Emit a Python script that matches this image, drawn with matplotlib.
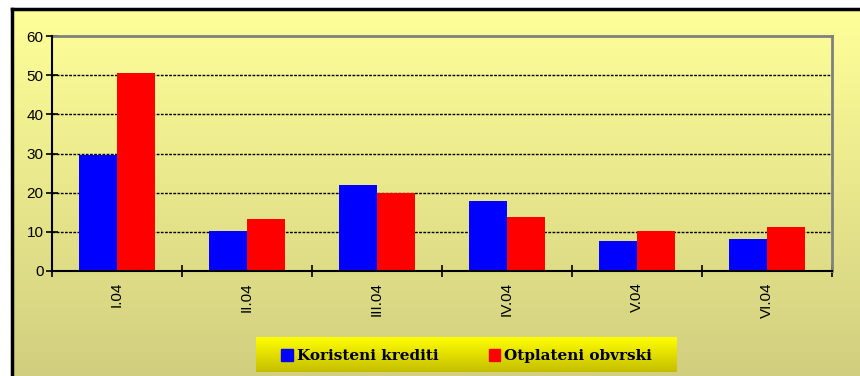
import numpy as np
import matplotlib.pyplot as plt
from matplotlib.patches import Patch

# Podaci po mjesecima (mil.)
kategorije = ['I.04', 'II.04', 'III.04', 'IV.04', 'V.04', 'VI.04']
koristeni = [29.5, 10.3, 22.0, 17.9, 7.7, 8.2]
otplateni = [50.6, 13.3, 19.8, 13.8, 10.2, 11.2]

W, H = 860, 376
fig = plt.figure(figsize=(W / 100, H / 100), dpi=100)
fig.patch.set_facecolor('white')

# pozadina s gradijentom
bg = fig.add_axes([12 / W, 0, 1 - 12 / W, 1 - 9 / H])
grad = np.linspace(0, 1, 256).reshape(-1, 1)
top = np.array([255, 255, 153]) / 255
bot = np.array([209, 207, 127]) / 255
img = top + (bot - top) * grad[..., None]
bg.imshow(img, aspect='auto', extent=[0, 1, 0, 1])
bg.set_xticks([])
bg.set_yticks([])
for s in ['right', 'bottom']:
    bg.spines[s].set_visible(False)
for s in ['left', 'top']:
    bg.spines[s].set_color('black')
    bg.spines[s].set_linewidth(2.5)
bg.set_zorder(0)

ax = fig.add_axes([52 / W, (H - 271) / H, 780 / W, 235 / H])
ax.set_facecolor('none')
ax.set_zorder(1)

x = np.arange(len(kategorije))
sirina = 0.29
ax.bar(x - sirina / 2, koristeni, sirina, color='#0000FF', zorder=3)
ax.bar(x + sirina / 2, otplateni, sirina, color='#FF0000', zorder=3)

ax.set_xlim(-0.5, len(kategorije) - 0.5)
ax.set_ylim(0, 60)
ax.set_yticks(range(0, 61, 10))
ax.set_xticks(x)
ax.set_xticklabels(kategorije, rotation=90, fontsize=11, family='Liberation Sans')
ax.set_xticks(np.arange(-0.5, len(kategorije)), minor=True)
ax.tick_params(axis='x', which='major', length=0, pad=8)
ax.tick_params(axis='x', which='minor', direction='inout', length=8, width=1.2)
ax.tick_params(axis='y', direction='inout', length=8, width=1.2, pad=2)
for lab in ax.get_yticklabels():
    lab.set_fontsize(11)
    lab.set_family('Liberation Sans')

for yv in range(10, 60, 10):
    ax.axhline(yv, color='black', lw=1, ls=(0, (2, 1)), zorder=2)

ax.spines['left'].set_linewidth(1.5)
ax.spines['bottom'].set_linewidth(1.5)
ax.spines['left'].set_zorder(4)
ax.spines['bottom'].set_zorder(4)
ax.spines['top'].set_color('#808080')
ax.spines['top'].set_linewidth(2)
ax.spines['right'].set_color('#808080')
ax.spines['right'].set_linewidth(2)

# okvir legende
lg = fig.add_axes([256 / W, (H - 372) / H, 421 / W, 35 / H])
ltop = np.array([255, 255, 0]) / 255
lbot = np.array([196, 190, 0]) / 255
limg = ltop + (lbot - ltop) * grad[..., None]
lg.imshow(limg, aspect='auto', extent=[0, 1, 0, 1])
lg.axis('off')
lg.set_zorder(2)

handles = [Patch(color='#0000FF', label='Koristeni krediti'),
           Patch(color='#FF0000', label='Otplateni obvrski')]
leg = lg.legend(handles=handles, ncol=2, loc='center', frameon=False,
                bbox_to_anchor=(0.5, 0.45),
                prop={'family': 'DejaVu Serif', 'weight': 'bold', 'size': 11},
                handlelength=0.75, handleheight=0.75, handletextpad=0.25,
                columnspacing=3.3)

fig.savefig('out.png', dpi=100)
